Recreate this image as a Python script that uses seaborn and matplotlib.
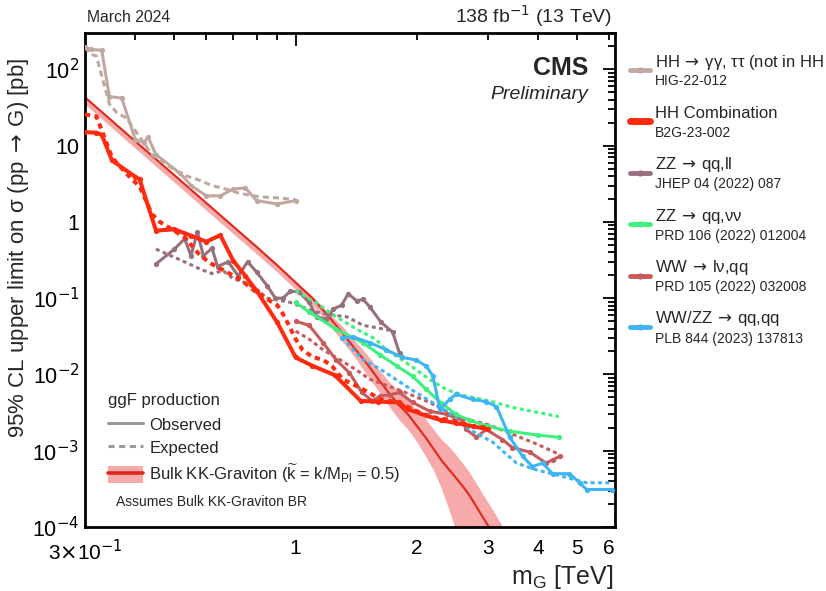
import matplotlib
matplotlib.use("Agg")
import matplotlib.pyplot as plt
import seaborn as sns
from matplotlib.lines import Line2D
from matplotlib.patches import Patch

# ---------------------------------------------------------------------------
# 95% CL upper limits on sigma(pp -> G) [pb] versus graviton mass m_G [TeV]
# ---------------------------------------------------------------------------

# HH -> gamma gamma, tau tau (HIG-22-012)
gg_obs_m = [0.30, 0.31, 0.33, 0.345, 0.37, 0.40, 0.42, 0.43, 0.45, 0.515, 0.55,
            0.60, 0.65, 0.70, 0.75, 0.80, 0.90, 1.00]
gg_obs = [195, 183, 178, 44, 42, 12, 10.9, 13, 7.6, 4.4, 3.0,
          2.2, 2.2, 2.7, 2.8, 1.9, 1.72, 1.9]
gg_exp_m = [0.30, 0.31, 0.32, 0.345, 0.36, 0.38, 0.41, 0.44, 0.52, 0.57, 0.62,
            0.67, 0.72, 0.78, 0.85, 0.92, 1.00]
gg_exp = [195, 157, 150, 35, 27, 23, 13, 7.6, 4.2, 3.6, 3.0,
          2.7, 2.4, 2.2, 2.1, 2.05, 1.95]

# HH combination (B2G-23-002)
hh_obs_m = [0.30, 0.32, 0.33, 0.35, 0.40, 0.41, 0.45, 0.50, 0.55, 0.60, 0.65,
            0.70, 0.75, 0.80, 0.90, 1.00, 1.10, 1.25, 1.45, 1.60, 1.80, 1.90,
            2.10, 2.30, 2.50, 2.75, 3.00]
hh_obs = [15, 14.8, 13.9, 6.4, 3.9, 3.6, 0.77, 0.80, 0.66, 0.55, 0.67,
          0.31, 0.196, 0.125, 0.048, 0.0167, 0.013, 0.0098, 0.0045, 0.0044, 0.0043, 0.0035,
          0.0029, 0.0025, 0.0023, 0.0021, 0.0019]
hh_exp_m = [0.30, 0.32, 0.335, 0.35, 0.38, 0.41, 0.44, 0.46, 0.53, 0.58, 0.62,
            0.73, 0.79, 0.85, 0.90, 0.93, 0.96, 1.00, 1.04, 1.10, 1.17, 1.23,
            1.31, 1.42, 1.52, 1.62, 1.80, 1.95, 2.15, 2.45, 2.75, 3.00]
hh_exp = [25.6, 24.3, 13, 7.0, 4.3, 2.9, 1.27, 1.0, 0.63, 0.36, 0.28,
          0.175, 0.125, 0.097, 0.081, 0.062, 0.045, 0.029, 0.021, 0.017, 0.0155, 0.0129,
          0.0086, 0.007, 0.0058, 0.0047, 0.0043, 0.0035, 0.0028, 0.0025, 0.0021, 0.0020]

# ZZ -> qq, ll (JHEP 04 (2022) 087)
zzll_obs_m = [0.45, 0.50, 0.53, 0.55, 0.57, 0.59, 0.62, 0.64, 0.68, 0.72,
              0.76, 0.80, 0.85, 0.89, 0.93, 0.97, 1.02, 1.08, 1.13, 1.19,
              1.24, 1.30, 1.35, 1.42, 1.47, 1.53, 1.63, 1.74, 1.81]
zzll_obs = [0.28, 0.44, 0.60, 0.36, 0.74, 0.36, 0.45, 0.26, 0.30, 0.196,
            0.30, 0.22, 0.145, 0.10, 0.10, 0.124, 0.12, 0.088, 0.057, 0.053,
            0.072, 0.081, 0.114, 0.092, 0.097, 0.076, 0.048, 0.036, 0.019]
zzll_exp_m = [0.45, 0.49, 0.53, 0.58, 0.62, 0.66, 0.70, 0.75, 0.80, 0.85,
              0.97, 1.12, 1.24, 1.34, 1.47, 1.55, 1.71]
zzll_exp = [0.44, 0.36, 0.30, 0.24, 0.21, 0.23, 0.18, 0.16, 0.13, 0.10,
            0.088, 0.066, 0.060, 0.057, 0.044, 0.042, 0.038]

# ZZ -> qq, nu nu (PRD 106 (2022) 012004)
zzvv_obs_m = [1.0, 1.08, 1.26, 1.47, 1.62, 1.78, 1.95, 2.1, 2.3, 2.5, 2.7,
              3.0, 3.4, 4.0, 4.5]
zzvv_obs = [0.088, 0.066, 0.039, 0.026, 0.018, 0.013, 0.0095, 0.0065, 0.0042,
            0.0030, 0.0025, 0.0021, 0.0018, 0.0016, 0.0015]
zzvv_exp_m = [1.0, 1.12, 1.26, 1.42, 1.58, 1.68, 1.88, 2.15, 2.37, 2.65, 3.03,
              3.45, 3.96, 4.5]
zzvv_exp = [0.125, 0.088, 0.057, 0.039, 0.029, 0.021, 0.0143, 0.0086, 0.0063,
            0.0052, 0.0045, 0.0037, 0.0032, 0.0028]

# WW -> l nu, qq (PRD 105 (2022) 032008)
ww_obs_m = [1.0, 1.08, 1.17, 1.26, 1.36, 1.46, 1.55, 1.62, 1.71, 1.81,
            1.95, 2.15, 2.37, 2.59, 2.65, 2.81, 2.97, 3.26, 3.45, 3.81,
            4.18, 4.34, 4.52]
ww_obs = [0.05, 0.044, 0.026, 0.0155, 0.0105, 0.0058, 0.0045, 0.0052, 0.0054, 0.0058,
          0.0043, 0.0033, 0.0030, 0.0025, 0.0019, 0.0015, 0.0019, 0.0014, 0.0011, 0.00096,
          0.00069, 0.00076, 0.00084]
ww_exp_m = [1.0, 1.08, 1.17, 1.29, 1.41, 1.53, 1.8, 2.15, 2.5, 3.0, 3.5, 4.0, 4.5]
ww_exp = [0.037, 0.029, 0.021, 0.0155, 0.0116, 0.0086, 0.0063, 0.0043, 0.0028,
          0.0022, 0.0016, 0.0012, 0.0009]

# WW/ZZ -> qq, qq (PLB 844 (2023) 137813)
wwzz_obs_m = [1.3, 1.39, 1.53, 1.68, 1.84, 1.99, 2.11, 2.19, 2.28, 2.41, 2.5,
              2.75, 2.97, 3.15, 3.4, 3.66, 3.87, 4.1, 4.34, 4.78, 5.07, 5.27, 6.1]
wwzz_obs = [0.030, 0.031, 0.026, 0.021, 0.0167, 0.0155, 0.0128, 0.0096, 0.0035, 0.0047, 0.0055,
            0.0047, 0.0044, 0.0038, 0.0015, 0.00084, 0.00062, 0.00069, 0.0005, 0.0005,
            0.00038, 0.00031, 0.00031]
wwzz_exp_m = [1.34, 1.47, 1.62, 1.78, 1.95, 2.15, 2.41, 2.7, 3.08, 3.53, 3.96,
              4.6, 5.27, 6.1]
wwzz_exp = [0.026, 0.0155, 0.0118, 0.0085, 0.0062, 0.0045, 0.0031, 0.0019, 0.0013,
            0.00069, 0.00056, 0.00046, 0.00038, 0.00038]

# Bulk KK-graviton cross section (k~ = 0.5) with its uncertainty band
theory_m = [0.3, 0.4, 0.5, 0.6, 0.7, 0.8, 0.9, 1.0, 1.1, 1.2, 1.3, 1.4, 1.5, 1.6,
            1.7, 1.8, 1.9, 2.0, 2.1, 2.2, 2.3, 2.4, 2.5, 2.6, 2.7, 2.8, 2.9, 3.0,
            3.1, 3.2, 3.3]
theory_xs = [43, 11.4, 4.1, 1.77, 0.87, 0.47, 0.27, 0.16, 0.10, 0.06, 0.036, 0.022,
             0.014, 0.0088, 0.0058, 0.0040, 0.0030, 0.0021, 0.0015, 0.00105, 0.00075,
             0.00057, 0.00044, 0.00034, 0.00026, 0.00019, 0.00014, 0.000105, 0.00008,
             0.00006, 0.000045]
theory_hi = [44, 11.7, 4.2, 1.82, 0.90, 0.49, 0.28, 0.168, 0.107, 0.066, 0.044, 0.028,
             0.0185, 0.012, 0.0082, 0.0059, 0.0046, 0.0034, 0.0026, 0.0019, 0.0014,
             0.00114, 0.00088, 0.00068, 0.00052, 0.00038, 0.00028, 0.00021, 0.00016,
             0.00012, 0.00009]
theory_lo = [35, 9.2, 3.3, 1.42, 0.70, 0.38, 0.22, 0.13, 0.082, 0.048, 0.028, 0.017,
             0.010, 0.0062, 0.0039, 0.0026, 0.0019, 0.0013, 0.00085, 0.00055, 0.00032,
             0.00017, 0.000088, 0.00005, 0.00003, 0.00002, 0.000014, 0.00001, 0.000008,
             0.000006, 0.0000045]

# Axis ticks
x_major = [1]
x_minor = [0.3, 0.4, 0.5, 0.6, 0.7, 0.8, 0.9, 2, 3, 4, 5, 6]
x_minor_labels = [r"3$\times$10$^{-1}$", "", "", "", "", "", "", "2", "3", "4", "5", "6"]
y_major = [1e-4, 1e-3, 1e-2, 1e-1, 1, 10, 100]
y_major_labels = [r"10$^{-4}$", r"10$^{-3}$", r"10$^{-2}$", r"10$^{-1}$", "1", "10", r"10$^{2}$"]

# Colours
gg_color = "#c0a8a1"
hh_color = "#ff2a10"
zzll_color = "#98707b"
zzvv_color = "#3ef07e"
ww_color = "#c95a5c"
wwzz_color = "#3db5f2"
theory_color = "#e3261b"
band_color = "#f7aaaa"

sns.set_theme(style="white")
plt.rcParams["font.family"] = ["Liberation Sans", "DejaVu Sans"]
plt.rcParams["mathtext.fontset"] = "dejavusans"

fig = plt.figure(figsize=(8.26, 5.91), dpi=100)
ax = fig.add_axes([0.1029, 0.1083, 0.6416, 0.8359])
ax.set_xscale("log")
ax.set_yscale("log")

# theory band and central line
ax.fill_between(theory_m, theory_lo, theory_hi, color=band_color, lw=0, zorder=1)
sns.lineplot(x=theory_m, y=theory_xs, ax=ax, color=theory_color, lw=1.5,
             estimator=None, sort=False, zorder=2)

dotted = (0, (1.3, 1.1))
series = [
    (gg_obs_m, gg_obs, gg_exp_m, gg_exp, gg_color, 2.2, (0, (2.0, 1.3))),
    (zzll_obs_m, zzll_obs, zzll_exp_m, zzll_exp, zzll_color, 2.2, dotted),
    (ww_obs_m, ww_obs, ww_exp_m, ww_exp, ww_color, 2.2, dotted),
    (zzvv_obs_m, zzvv_obs, zzvv_exp_m, zzvv_exp, zzvv_color, 2.2, dotted),
    (wwzz_obs_m, wwzz_obs, wwzz_exp_m, wwzz_exp, wwzz_color, 2.2, dotted),
    (hh_obs_m, hh_obs, hh_exp_m, hh_exp, hh_color, 2.9, dotted),
]
for k, (mo, vo, me, ve, col, lw, ls) in enumerate(series):
    sns.lineplot(x=me, y=ve, ax=ax, color=col, lw=lw, linestyle=ls,
                 estimator=None, sort=False, zorder=3 + k)
    sns.lineplot(x=mo, y=vo, ax=ax, color=col, lw=lw, marker="o", markersize=3.8,
                 markeredgewidth=0, estimator=None, sort=False, zorder=3 + k)

ax.set_xlim(0.3, 6.2)
ax.set_ylim(1e-4, 300)

ax.set_xticks(x_major, labels=["1"])
ax.set_xticks(x_minor, labels=x_minor_labels, minor=True)
ax.set_yticks(y_major, labels=y_major_labels)
ax.set_yticks([m * d for d in y_major[:-1] for m in range(2, 10)] + [200, 300], minor=True)
ax.yaxis.set_minor_formatter(plt.NullFormatter())
ax.tick_params(which="both", direction="in", top=True, right=True, colors="black",
               width=1.3)
ax.tick_params(which="major", length=9)
ax.tick_params(which="minor", length=5)
ax.tick_params(axis="x", which="both", labelsize=15, pad=9)
ax.tick_params(axis="y", which="both", labelsize=15.5, pad=4)
for s in ax.spines.values():
    s.set_linewidth(2.0)
    s.set_color("black")
ax.set_xlabel("")
ax.set_ylabel("")

# axis titles
fig.text(0.022, 0.58, "95% CL upper limit on \u03c3 (pp$\\,\\rightarrow\\,$G) [pb]",
         rotation=90, ha="center", va="center", fontsize=16)
fig.text(0.743, 0.024, r"m$_{\mathregular{G}}$ [TeV]", ha="right", va="center", fontsize=18)

# header
fig.text(0.105, 0.963, "March 2024", ha="left", va="baseline", fontsize=11.3)
fig.text(0.741, 0.962, r"138 fb$^{-1}$ (13 TeV)", ha="right", va="baseline", fontsize=14)
ax.text(0.949, 0.929, "CMS", transform=ax.transAxes, ha="right", va="center",
        fontsize=18, fontweight="bold")
ax.text(0.949, 0.8745, "Preliminary", transform=ax.transAxes, ha="right", va="center",
        fontsize=14, fontstyle="italic")

# production / line-style legend
leg_handles = [
    Line2D([], [], color="#9a9a9a", lw=2.2),
    Line2D([], [], color="#9a9a9a", lw=2.2, ls=(0, (2.0, 1.5))),
    (Patch(facecolor=band_color, edgecolor="none"), Line2D([], [], color=theory_color, lw=2.6)),
]
leg_labels = ["Observed", "Expected",
              r"Bulk KK-Graviton ($\widetilde{\mathregular{k}}$ = k/M$_{\mathregular{Pl}}$ = 0.5)"]
leg = ax.legend(leg_handles, leg_labels, title="ggF production", loc="lower left",
                bbox_to_anchor=(0.043, 0.085), frameon=False, fontsize=12,
                title_fontsize=12, handlelength=2.1, handleheight=1.15,
                labelspacing=0.35, handletextpad=0.4, borderpad=0, borderaxespad=0)
leg._legend_box.align = "left"
leg._legend_box.sep = 6
ax.text(0.0585, 0.0506, "Assumes Bulk KK-Graviton BR", transform=ax.transAxes,
        ha="left", va="center", fontsize=10)

# analysis legend to the right of the axes
arrow = "$\\,\\rightarrow\\,$"
entries = [
    ("HH" + arrow + "\u03b3\u03b3, \u03c4\u03c4 (not in HH", "HIG-22-012", gg_color, 3.5),
    ("HH Combination", "B2G-23-002", hh_color, 5.0),
    ("ZZ" + arrow + "qq,ll", "JHEP 04 (2022) 087", zzll_color, 3.5),
    ("ZZ" + arrow + "qq,\u03bd\u03bd", "PRD 106 (2022) 012004", zzvv_color, 3.5),
    ("WW" + arrow + "l\u03bd,qq", "PRD 105 (2022) 032008", ww_color, 3.5),
    ("WW/ZZ" + arrow + "qq,qq", "PLB 844 (2023) 137813", wwzz_color, 3.5),
]
W, H = 826.0, 591.0
for i, (main, sub, col, lw) in enumerate(entries):
    y_main = 62 + 51.4 * i
    y_sub = 81.5 + 51.4 * i
    y_hdl = 70 + 51.4 * i
    fig.add_artist(Line2D([630 / W, 640 / W, 650 / W], [1 - y_hdl / H] * 3,
                          transform=fig.transFigure, color=col, lw=lw,
                          marker="o", markersize=4.5, markeredgewidth=0, markevery=[1]))
    fig.text(655 / W, 1 - y_main / H, main, ha="left", va="center", fontsize=12)
    fig.text(655 / W, 1 - y_sub / H, sub, ha="left", va="center", fontsize=10)

fig.savefig("out.png", dpi=100)
